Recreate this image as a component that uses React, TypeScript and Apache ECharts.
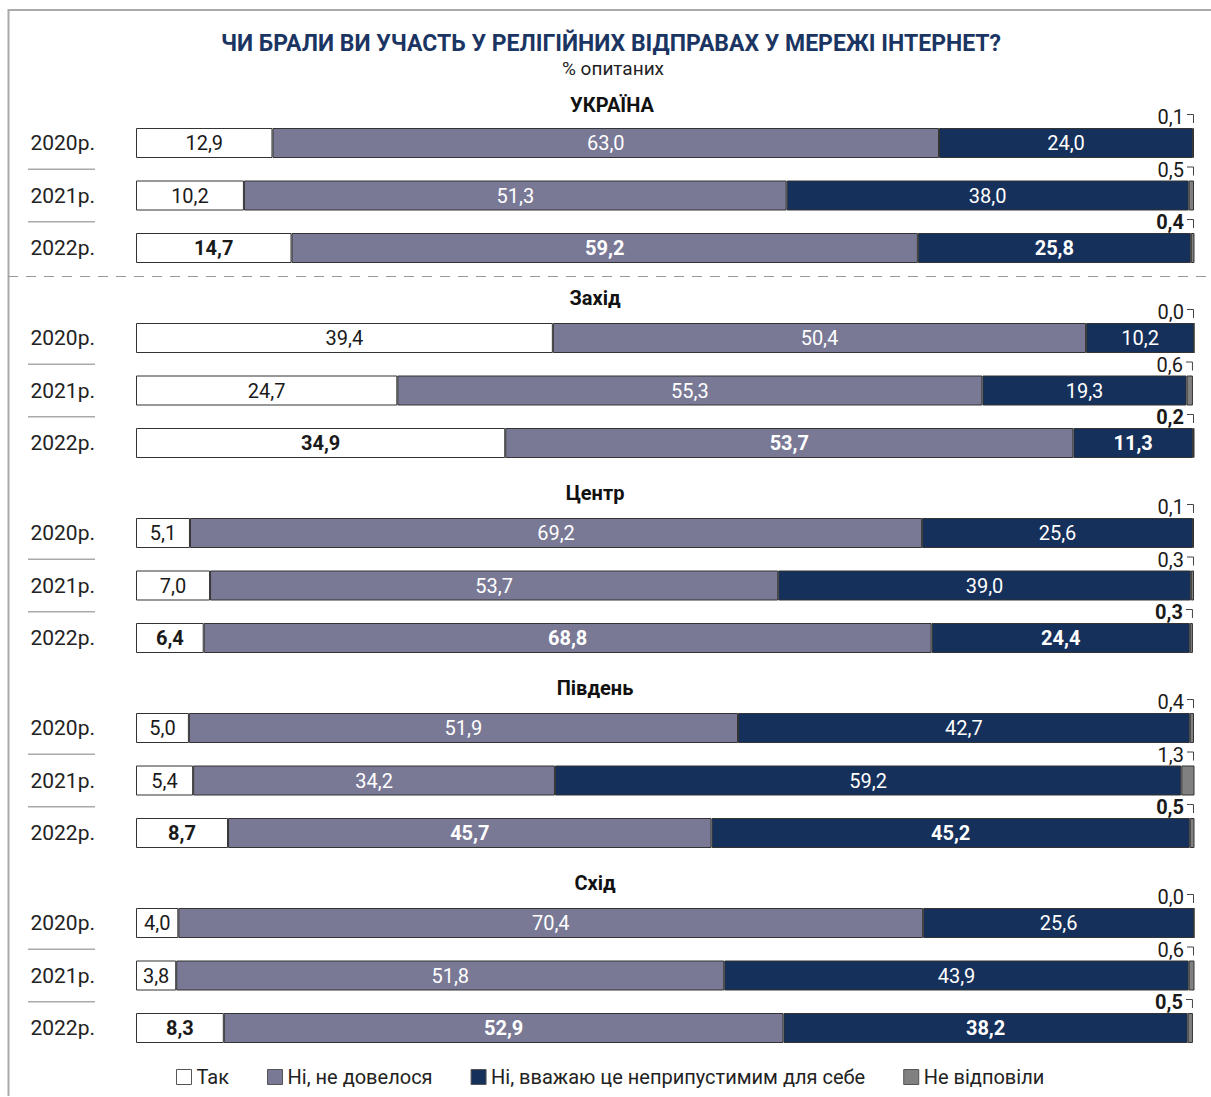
import React, { useEffect, useRef } from "react";
import * as echarts from "echarts";

const years = ["2020р.", "2021р.", "2022р."];
const regions = ["УКРАЇНА", "Захід", "Центр", "Південь", "Схід"];
const seriesNames = ["Так", "Ні, не довелося", "Ні, вважаю це неприпустимим для себе", "Не відповіли"];
const yes = [[12.9, 10.2, 14.7], [39.4, 24.7, 34.9], [5.1, 7.0, 6.4], [5.0, 5.4, 8.7], [4.0, 3.8, 8.3]];
const noNeed = [[63.0, 51.3, 59.2], [50.4, 55.3, 53.7], [69.2, 53.7, 68.8], [51.9, 34.2, 45.7], [70.4, 51.8, 52.9]];
const unacceptable = [[24.0, 38.0, 25.8], [10.2, 19.3, 11.3], [25.6, 39.0, 24.4], [42.7, 59.2, 45.2], [25.6, 43.9, 38.2]];
const noAnswer = [[0.1, 0.5, 0.4], [0.0, 0.6, 0.2], [0.1, 0.3, 0.3], [0.4, 1.3, 0.5], [0.0, 0.6, 0.5]];

const FONT = "Roboto, 'Noto Sans', sans-serif";
const colors = ["#ffffff", "#797996", "#15305a", "#808080"];
const labelColors = ["#1a1a1a", "#ffffff", "#ffffff", "#ffffff"];

const W = 1211;
const H = 1097;
const GRID_LEFT = 136;
const GRID_RIGHT = 17;
const GRID_TOP0 = 116.75;
const GROUP_STEP = 195;
const GRID_H = 157.5;
const headingY = [107, 300, 495, 690, 885];

const fmt = (v: number) => v.toFixed(1).replace(".", ",");

export default function App() {
  const ref = useRef<HTMLDivElement>(null);
  useEffect(() => {
    if (!ref.current) return;
    const chart = echarts.init(ref.current, null, { renderer: "svg" });
    const grids: any[] = [];
    const xAxes: any[] = [];
    const yAxes: any[] = [];
    const series: any[] = [];
    const graphics: any[] = [];
    const titles: any[] = [
      {
        text: "ЧИ БРАЛИ ВИ УЧАСТЬ У РЕЛІГІЙНИХ ВІДПРАВАХ У МЕРЕЖІ ІНТЕРНЕТ?",
        left: 611,
        top: 32,
        padding: 0,
        textAlign: "center",
        textStyle: { fontFamily: FONT, fontSize: 23, fontWeight: "bold", color: "#1b3563" },
      },
      {
        text: "% опитаних",
        left: 613,
        top: 59,
        padding: 0,
        textAlign: "center",
        textStyle: { fontFamily: FONT, fontSize: 19, fontWeight: "normal", color: "#222" },
      },
    ];
    regions.forEach((r, g) => {
      titles.push({
        text: r,
        left: g === 0 ? 612 : 595,
        top: headingY[g] - 12,
        padding: 0,
        textAlign: "center",
        textStyle: { fontFamily: FONT, fontSize: 20, fontWeight: "bold", color: "#111" },
      });
      const top = GRID_TOP0 + GROUP_STEP * g;
      grids.push({ left: GRID_LEFT, right: GRID_RIGHT, top, height: GRID_H });
      xAxes.push({ gridIndex: g, type: "value", min: 0, max: 100, show: false });
      yAxes.push({
        gridIndex: g,
        type: "category",
        data: years,
        inverse: true,
        axisLine: { show: false },
        axisTick: { show: false },
        axisLabel: { margin: 41, fontFamily: FONT, fontSize: 21, color: "#222" },
      });
      const vals = [yes[g], noNeed[g], unacceptable[g], noAnswer[g]];
      vals.forEach((arr, s) => {
        series.push({
          type: "bar",
          name: seriesNames[s],
          xAxisIndex: g,
          yAxisIndex: g,
          stack: "g" + g,
          barWidth: 30,
          itemStyle: { color: colors[s], borderColor: "#333", borderWidth: 1 },
          label: {
            show: s < 3,
            position: "inside",
            fontFamily: FONT,
            fontSize: 20,
            color: labelColors[s],
            formatter: (p: any) => fmt(p.value),
          },
          data: arr.map((v, i) => ({
            value: v,
            label: i === 2 ? { fontWeight: "bold" } : { fontWeight: "normal" },
          })),
          z: 2,
        });
      });
      series.push({
        type: "custom",
        name: "annot" + g,
        xAxisIndex: g,
        yAxisIndex: g,
        silent: true,
        data: noAnswer[g].map((v, i) => [
          Math.min(100, yes[g][i] + noNeed[g][i] + unacceptable[g][i] + v),
          i,
          v,
        ]),
        renderItem: (params: any, api: any) => {
          const p = api.coord([api.value(0), api.value(1)]);
          const x = p[0];
          const y = p[1];
          const bold = api.value(1) === 2;
          return {
            type: "group",
            children: [
              {
                type: "text",
                x: x - 10,
                y: y - 26,
                style: {
                  text: fmt(api.value(2)),
                  align: "right",
                  verticalAlign: "middle",
                  fontSize: 20,
                  fontWeight: bold ? "bold" : "normal",
                  fontFamily: FONT,
                  fill: "#1a1a1a",
                },
              },
              {
                type: "polyline",
                shape: { points: [[x - 7, y - 28.5], [x - 0.5, y - 28.5], [x - 0.5, y - 20]] },
                style: { stroke: "#444", lineWidth: 1, fill: null },
              },
            ],
          };
        },
        z: 3,
      });
      const step = GRID_H / 3;
      [1, 2].forEach((k) => {
        graphics.push({
          type: "line",
          shape: { x1: 28, y1: top + step * k, x2: 95, y2: top + step * k },
          style: { stroke: "#aaa", lineWidth: 1.5 },
        });
      });
    });
    graphics.push({
      type: "line",
      shape: { x1: 8.5, y1: 9, x2: 8.5, y2: 1096 },
      style: { stroke: "#aaa", lineWidth: 2 },
    });
    graphics.push({
      type: "line",
      shape: { x1: 8, y1: 10, x2: W, y2: 10 },
      style: { stroke: "#aaa", lineWidth: 2 },
    });
    graphics.push({
      type: "line",
      shape: { x1: 8, y1: 276.5, x2: W, y2: 276.5 },
      style: { stroke: "#999", lineWidth: 1, lineDash: [10, 8] },
    });

    chart.setOption({
      animation: false,
      backgroundColor: "#ffffff",
      title: titles,
      grid: grids,
      xAxis: xAxes,
      yAxis: yAxes,
      series,
      graphic: graphics,
      legend: {
        data: seriesNames,
        left: 176,
        top: 1067,
        padding: 0,
        itemWidth: 15,
        itemHeight: 15,
        itemGap: 38,
        icon: "rect",
        textStyle: { fontFamily: FONT, fontSize: 20, color: "#222" },
        itemStyle: { borderColor: "#555", borderWidth: 1 },
      },
    });
    return () => chart.dispose();
  }, []);
  return (
    <div
      ref={ref}
      style={{ position: "absolute", left: 0, top: 0, width: W, height: H }}
    />
  );
}
